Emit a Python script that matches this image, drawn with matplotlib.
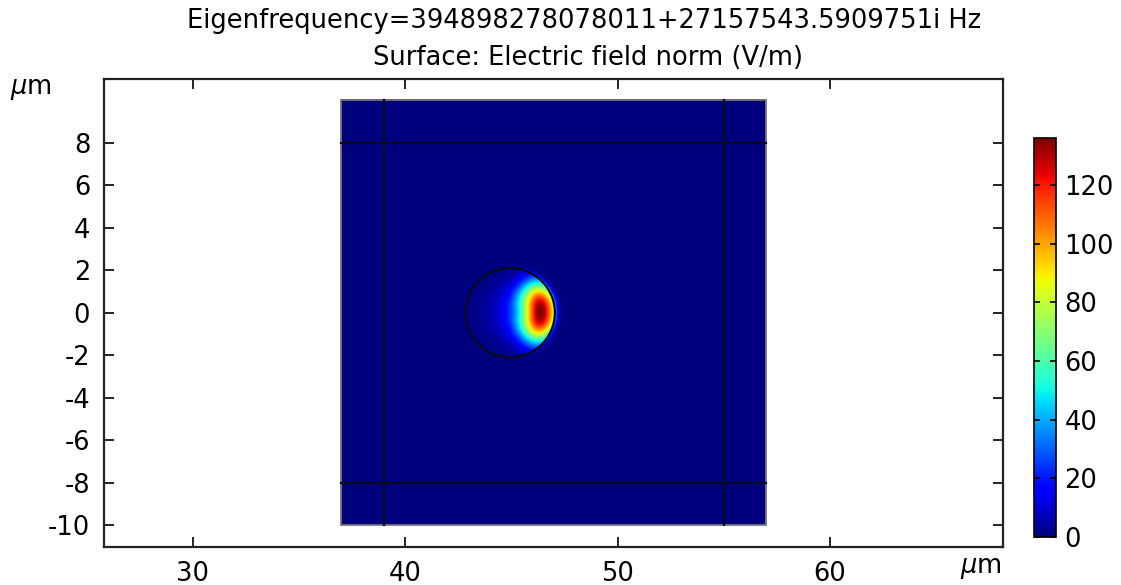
import numpy as np
import matplotlib
matplotlib.use("Agg")
import matplotlib.pyplot as plt
from matplotlib.patches import Circle, Rectangle

plt.rcParams["axes.unicode_minus"] = False

# geometry (micrometres)
box_x = [37, 57]
box_y = [-10, 10]
pml_x = [39, 55]
pml_y = [-8, 8]
ring_center = (44.95, 0.0)
ring_radius = 2.1

# mode profile: peak value and shape parameters (V/m, um)
peak_value = 136.0
peak_offset = 1.44
x_width = 0.6
y_width = 1.38
y_power = 2.5
bend = 0.35
decay_outside = 0.1

xticks = [30, 40, 50, 60]
yticks = [-10, -8, -6, -4, -2, 0, 2, 4, 6, 8]
cticks = [0, 20, 40, 60, 80, 100, 120]

title_1 = "Eigenfrequency=394898278078011+27157543.5909751i Hz"
title_2 = "Surface: Electric field norm (V/m)"

# electric field norm on the simulation box
xs = np.linspace(box_x[0], box_x[1], 1001)
ys = np.linspace(box_y[0], box_y[1], 1001)
X, Y = np.meshgrid(xs, ys)
dx = X - ring_center[0]
dy = Y - ring_center[1]
r = np.hypot(dx, dy)
# coordinate across the mode, bent a little along the ring wall
ds = dx + bend * (r - dx) * np.clip(dx, 0, None) / (r + 1e-9) - peak_offset
field = peak_value / np.cosh(ds / x_width) * np.exp(-(np.abs(dy) / y_width) ** y_power)
field = np.where(r > ring_radius,
                 field * np.exp(-(r - ring_radius) / decay_outside), field)

fig = plt.figure(figsize=(11.21, 5.85), dpi=100)
ax = fig.add_axes([0.0928, 0.065, 0.8019, 0.80])

im = ax.imshow(field, extent=[box_x[0], box_x[1], box_y[0], box_y[1]],
               origin="lower", cmap="jet", vmin=0, vmax=peak_value,
               interpolation="bilinear", aspect="auto")

ax.add_patch(Rectangle((box_x[0], box_y[0]), box_x[1] - box_x[0], box_y[1] - box_y[0],
                       fill=False, edgecolor="#777777", lw=1.3))
for xv in pml_x:
    ax.plot([xv, xv], box_y, color="#0a0a1a", lw=1.6)
for yv in pml_y:
    ax.plot(box_x, [yv, yv], color="#0a0a1a", lw=1.6)
ax.add_patch(Circle(ring_center, ring_radius, fill=False, edgecolor="#0a0a1a", lw=1.6))

ax.set_xlim(25.83, 68.14)
ax.set_ylim(-11.02, 11.0)
ax.set_xticks(xticks)
ax.set_yticks(yticks)
ax.tick_params(direction="in", length=7, width=1.2, top=True, right=True,
               labelsize=18.5, pad=10)
for s in ax.spines.values():
    s.set_linewidth(1.6)
    s.set_color("#222222")

ax.text(-0.058, 0.979, r"$\mu$m", transform=ax.transAxes, fontsize=18.5,
        ha="right", va="center")
ax.text(0.999, -0.045, r"$\mu$m", transform=ax.transAxes, fontsize=18.5,
        ha="right", va="center")

fig.text(0.521, 0.964, title_1, ha="center", va="center", fontsize=18.5)
fig.text(0.5245, 0.901, title_2, ha="center", va="center", fontsize=18.5)

cax = fig.add_axes([0.9224, 0.082, 0.0196, 0.682])
cb = fig.colorbar(im, cax=cax, ticks=cticks)
cb.outline.set_linewidth(1.2)
cax.tick_params(direction="in", length=4, width=1.2, left=True, right=True,
                labelsize=18.5, pad=6)

fig.savefig("out.png", dpi=100)
